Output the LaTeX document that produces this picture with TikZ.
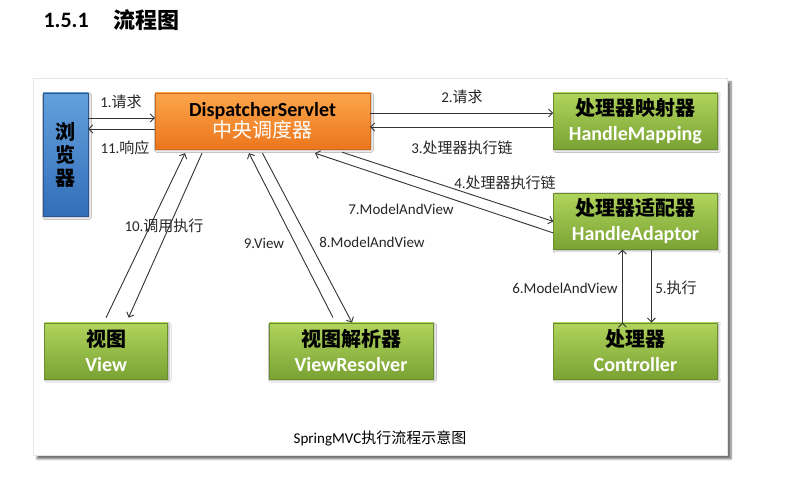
\documentclass[tikz,border=0pt]{standalone}
\usepackage{fontspec}
\setmainfont{Carlito}
\newfontfamily\cjk{Noto Sans CJK SC}
\usetikzlibrary{positioning,shadows.blur,arrows.meta}
\definecolor{bltop}{RGB}{100,160,220}
\definecolor{blbot}{RGB}{50,110,185}
\definecolor{blline}{RGB}{45,85,145}
\definecolor{ortop}{RGB}{252,165,75}
\definecolor{orbot}{RGB}{236,118,28}
\definecolor{orline}{RGB}{205,105,25}
\definecolor{grtop}{RGB}{176,212,92}
\definecolor{grbot}{RGB}{122,163,52}
\definecolor{grline}{RGB}{105,140,45}
\newcommand\zh[1]{{\cjk #1}}
\begin{document}
\begin{tikzpicture}[x=1pt, y=1pt, node distance={40pt},
	box/.style = {minimum width=164pt, minimum height=56pt, align=center, inner sep=0pt, text=black,
		font=\fontsize{20}{25}\selectfont,
		blur shadow={shadow blur steps=4, shadow xshift=1.5pt, shadow yshift=-1.5pt, shadow opacity=35}},
	grbox/.style = {box, top color=grtop, bottom color=grbot, draw=grline},
	lbl/.style = {inner sep=0pt, text=black!85, font=\fontsize{15}{18}\selectfont},
	link/.style = {-{Straight Barb[length=4pt,width=8pt]}, draw=black!80, line width=0.9pt}]
	\useasboundingbox (0,0) rectangle (801,495);
	\node (h1) [anchor=west, font=\fontsize{22}{26}\selectfont\bfseries] at (40,475) {1.5.1};
	\node (h2) [anchor=west, font=\fontsize{22}{26}\selectfont\cjk\bfseries] at (110,475) {流程图};
	\node (panel) [draw=black!10, fill=white, minimum width=694pt, minimum height=377pt,
		blur shadow={shadow blur steps=6, shadow xshift=4pt, shadow yshift=-4pt, shadow opacity=55}] at (380,228.5) {};
	\node (ds) [box, minimum width=215pt, top color=ortop, bottom color=orbot, draw=orline,
		font=\fontsize{20}{22}\selectfont] at (262.5,374)
		{\textcolor{black}{\bfseries DispatcherServlet}\\[-1pt]\textcolor{white}{\cjk 中央调度器}};
	\node (browser) [box, minimum width=45pt, minimum height=123pt, top color=bltop, bottom color=blbot,
		draw=blline, font=\fontsize{20}{23}\selectfont\cjk\bfseries] at (65.5,340.5) {浏\\览\\器};
	\node (hm) [grbox] [right=183pt of ds] {\textbf{\cjk 处理器映射器}\\\textcolor{white}{\bfseries HandleMapping}};
	\node (ha) [grbox] [below=44pt of hm] {\textbf{\cjk 处理器适配器}\\\textcolor{white}{\bfseries HandleAdaptor}};
	\node (ctrl) [grbox] [below=73pt of ha] {\textbf{\cjk 处理器}\\\textcolor{white}{\bfseries Controller}};
	\node (vr) [grbox] [left=120pt of ctrl] {\textbf{\cjk 视图解析器}\\\textcolor{white}{\bfseries ViewResolver}};
	\node (view) [grbox, minimum width=123pt] [left=101pt of vr] {\textbf{\cjk 视图}\\\textcolor{white}{\bfseries View}};
	\node (l1) [lbl] at (121,393) {1.\zh{请求}};
	\node (l11) [lbl] at (125,347) {11.\zh{响应}};
	\node (l2) [lbl] at (462,398) {2.\zh{请求}};
	\node (l3) [lbl] at (462,347) {3.\zh{处理器执行链}};
	\node (l4) [lbl] at (505,312) {4.\zh{处理器执行链}};
	\node (l7) [lbl] at (401,286) {7.ModelAndView};
	\node (l10) [lbl] at (164,269) {10.\zh{调用执行}};
	\node (l9) [lbl] at (264,252) {9.View};
	\node (l8) [lbl] at (372,253) {8.ModelAndView};
	\node (l6) [lbl] at (565,207) {6.ModelAndView};
	\node (l5) [lbl] at (676,207) {5.\zh{执行}};
	\node (cap) [lbl, text=black] at (380,57) {SpringMVC\zh{执行流程示意图}};
	\path[link]
		([yshift=3pt]browser.east |- ds.west) edge ([yshift=3pt]ds.west)
		([yshift=-8pt]ds.west) edge ([yshift=-8pt]browser.east |- ds.west)
		([yshift=8pt]ds.east) edge ([yshift=8pt]hm.west |- ds.east)
		([yshift=-6pt]hm.west |- ds.east) edge ([yshift=-6pt]ds.east)
		([xshift=79.5pt,yshift=-3pt]ds.south) edge (ha.west)
		([yshift=-11.5pt]ha.west) edge ([xshift=52.5pt,yshift=-4pt]ds.south)
		([yshift=5pt]view.north) edge ([xshift=-77.5pt,yshift=-4pt]ds.south)
		([xshift=-60.5pt,yshift=-4pt]ds.south) edge ([xshift=22.5pt,yshift=5pt]view.north)
		([xshift=-18pt,yshift=5pt]vr.north) edge ([xshift=-13.5pt,yshift=-4pt]ds.south)
		([yshift=-4pt]ds.south) edge ([xshift=1pt]vr.north)
		([xshift=16pt]ha.south) edge ([xshift=16pt]ctrl.north)
		([xshift=-13pt]ctrl.north) edge ([xshift=-13pt]ha.south);
\end{tikzpicture}
\end{document}
